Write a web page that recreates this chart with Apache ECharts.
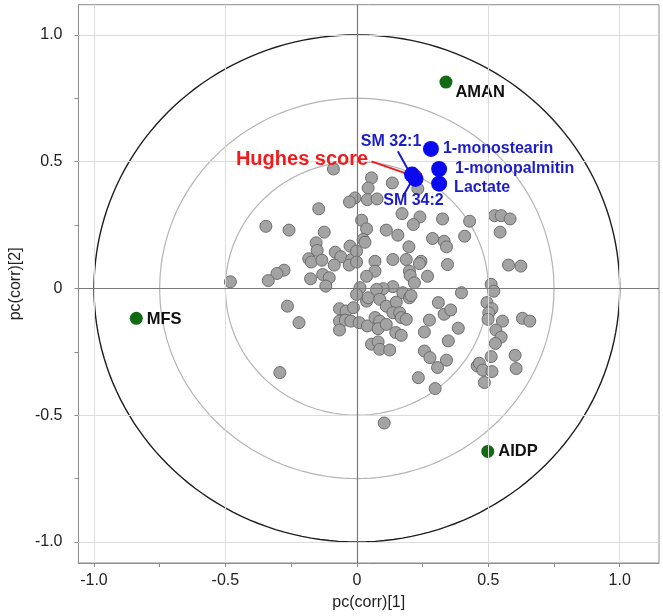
<!DOCTYPE html>
<html>
<head>
<meta charset="utf-8">
<script src="https://cdn.jsdelivr.net/npm/echarts@6/dist/echarts.min.js"></script>
<style>html,body{margin:0;padding:0;background:#fff}#c{width:663px;height:616px}</style>
</head>
<body>
<div id="c"></div>
<script>
// ---- data ----
const xLabelValues = [-1, -0.5, 0, 0.5, 1];
const yLabelValues = [-1, -0.5, 0, 0.5, 1];
const tickValues = [-1, -0.75, -0.5, -0.25, 0, 0.25, 0.5, 0.75, 1];
const gridValues = [-1, -0.5, 0.5, 1];
const circleRadii = [1, 0.75, 0.5];

const grayX = [-0.089,-0.007,-0.028,-0.145,-0.346,-0.258,-0.124,-0.155,-0.151,-0.026,-0.082,-0.061,-0.183,-0.173,-0.133,-0.020,-0.029,-0.086,-0.130,-0.105,-0.118,-0.176,-0.277,-0.304,-0.337,-0.481,-0.001,-0.001,
 0.056,0.043,0.135,0.232,0.040,0.077,0.172,0.240,0.215,0.326,0.018,0.037,0.112,0.156,0.024,0.031,0.288,0.332,0.341,0.198,0.429,0.410,0.524,0.549,0.583,0.545,0.188,0.137,0.069,0.069,0.037,0.244,0.238,0.269,0.345,0.200,0.203,0.219,0.577,0.624,0.012,0.137,0.511,0.100,0.075,
 -0.264,-0.220,-0.293,-0.066,-0.041,-0.013,-0.066,-0.044,-0.023,-0.066,
 -0.001,0.009,0.037,0.043,0.087,0.112,0.150,0.137,0.163,0.175,0.200,0.206,0.169,0.188,0.040,0.069,0.087,0.081,0.112,0.148,0.169,0.056,0.081,0.087,0.125,0.104,0.310,0.398,0.332,0.357,0.276,0.257,0.386,0.348,0.257,0.278,0.341,0.307,0.234,0.298,0.521,0.495,0.514,0.502,0.499,0.554,0.529,0.549,0.527,0.630,0.658,0.511,0.602,0.606,0.458,0.466,0.479,0.514,0.485];
const grayY = [0.471,0.357,0.341,0.314,0.245,0.230,0.222,0.180,0.150,0.167,0.143,0.125,0.117,0.104,0.111,0.114,0.092,0.092,0.055,0.042,0.009,0.038,0.072,0.059,0.031,0.026,0.147,0.104,
 0.436,0.396,0.416,0.393,0.350,0.353,0.295,0.282,0.252,0.274,0.269,0.235,0.230,0.210,0.193,0.182,0.197,0.186,0.164,0.164,0.265,0.206,0.287,0.287,0.274,0.222,0.114,0.114,0.107,0.068,0.048,0.107,0.098,0.048,0.094,0.068,0.051,0.022,0.092,0.088,0.003,0.007,0.016,-0.001,-0.004,
 -0.070,-0.135,-0.332,-0.080,-0.089,-0.076,-0.129,-0.125,-0.129,-0.164,
 -0.024,-0.135,-0.050,-0.037,-0.043,-0.070,-0.054,-0.096,-0.096,-0.017,-0.037,-0.028,-0.115,-0.122,-0.148,-0.115,-0.129,-0.159,-0.142,-0.174,-0.185,-0.220,-0.211,-0.240,-0.243,-0.531,-0.056,-0.017,-0.102,-0.085,-0.125,-0.172,-0.157,-0.207,-0.247,-0.273,-0.283,-0.312,-0.352,-0.395,-0.011,-0.056,-0.080,-0.096,-0.122,-0.129,-0.164,-0.192,-0.217,-0.118,-0.129,-0.269,-0.264,-0.316,-0.306,-0.295,-0.322,-0.328,-0.371];

const groupNames = ['AMAN', 'MFS', 'AIDP'];
const groupX = [0.339, -0.839, 0.498];
const groupY = [0.814, -0.118, -0.643];

const metabNames = ['SM 32:1', 'SM 34:2', '1-monostearin', '1-monopalmitin', 'Lactate'];
const metabX = [0.210, 0.223, 0.282, 0.313, 0.313];
const metabY = [0.449, 0.432, 0.550, 0.471, 0.413];

const scoreName = ['Hughes score'];
const scoreX = [0.222];
const scoreY = [0.442];

// annotation lines (data units): [startX, startY, endX, endY]
const arrowLine = [0.056, 0.501, 0.243, 0.433];
const leaderSM321 = [0.156, 0.541, 0.198, 0.462];
const leaderSM342 = [0.175, 0.363, 0.206, 0.419];

// ---- chart ----
const FONT = 'Liberation Sans, Arial, sans-serif';
const chart = echarts.init(document.getElementById('c'), null, {renderer: 'canvas'});

const fmt = v => (v === 0 ? '0' : v.toFixed(1));

const grayData = grayX.map((x, i) => [x, grayY[i]]);

const groupLabelCfg = [
  {position: 'right', distance: 3, offset: [0, 10]},
  {position: 'right', distance: 4, offset: [0, 1]},
  {position: 'right', distance: 4, offset: [0, 0]}
];
const groupData = groupNames.map((n, i) => ({
  name: n, value: [groupX[i], groupY[i]],
  label: Object.assign({show: true, formatter: n}, groupLabelCfg[i])
}));

const metabLabelCfg = [
  {position: 'inside', offset: [-21, -33]},
  {position: 'inside', offset: [-2, 22]},
  {position: 'right', distance: 4, offset: [0, 0]},
  {position: 'right', distance: 8, offset: [0, 0]},
  {position: 'right', distance: 7, offset: [0, 4]}
];
const metabData = metabNames.map((n, i) => ({
  name: n, value: [metabX[i], metabY[i]],
  label: Object.assign({show: true, formatter: n}, metabLabelCfg[i])
}));

const scoreData = scoreName.map((n, i) => ({
  name: n, value: [scoreX[i], scoreY[i]],
  label: {show: true, formatter: n, position: 'left', distance: 40, offset: [0, -17]}
}));

const gridLines = [];
gridValues.forEach(v => { gridLines.push({xAxis: v}); gridLines.push({yAxis: v}); });

const seg = a => [{coord: [a[0], a[1]]}, {coord: [a[2], a[3]]}];

chart.setOption({
  animation: false,
  grid: {left: 72.5, right: 4, top: 4.7, bottom: 52, show: true, borderColor: '#8c8c8c', borderWidth: 1, containLabel: false},
  xAxis: {
    type: 'value', min: -1.059, max: 1.1495,
    name: 'pc(corr)[1]', nameLocation: 'middle', nameGap: 32,
    nameTextStyle: {fontFamily: FONT, fontSize: 16, color: '#222'},
    axisLine: {show: true, onZero: false, lineStyle: {color: '#8c8c8c'}},
    axisTick: {show: true, inside: false, length: 4, customValues: tickValues, lineStyle: {color: '#8c8c8c'}},
    axisLabel: {customValues: xLabelValues, formatter: fmt, fontFamily: FONT, fontSize: 16, color: '#222', margin: 10},
    splitLine: {show: false}
  },
  yAxis: {
    type: 'value', min: -1.083, max: 1.119,
    name: 'pc(corr)[2]', nameLocation: 'middle', nameGap: 54, nameRotate: 90,
    nameTextStyle: {fontFamily: FONT, fontSize: 16, color: '#222'},
    axisLine: {show: true, onZero: false, lineStyle: {color: '#8c8c8c'}},
    axisTick: {show: true, inside: false, length: 4, customValues: tickValues, lineStyle: {color: '#8c8c8c'}},
    axisLabel: {customValues: yLabelValues, formatter: fmt, fontFamily: FONT, fontSize: 16, color: '#222', margin: 16},
    splitLine: {show: false}
  },
  series: [
    {
      type: 'custom', z: 1, silent: true,
      data: circleRadii.map(r => [r]),
      renderItem: function (params, api) {
        const r = api.value(0);
        const pts = [];
        for (let k = 0; k <= 360; k += 2) {
          const t = k * Math.PI / 180;
          pts.push(api.coord([r * Math.cos(t), r * Math.sin(t)]));
        }
        const outer = r === 1;
        return {
          type: 'polyline', shape: {points: pts},
          style: {fill: null, stroke: outer ? '#1e1e1e' : '#b4b4b4', lineWidth: outer ? 1.4 : 1.2}
        };
      },
      markLine: {
        silent: true, symbol: 'none', label: {show: false},
        lineStyle: {color: '#dcdcdc', width: 1, type: 'solid'},
        data: gridLines.concat([
          {xAxis: 0, lineStyle: {color: '#7a7a7a', width: 1.2}},
          {yAxis: 0, lineStyle: {color: '#7a7a7a', width: 1.2}}
        ])
      }
    },
    {
      type: 'scatter', z: 3, symbolSize: 12, data: grayData,
      itemStyle: {color: '#a3a3a3', borderColor: '#6c6c6c', borderWidth: 1, opacity: 1}
    },
    {
      type: 'scatter', z: 4, symbolSize: 13, data: groupData,
      itemStyle: {color: '#126a12', opacity: 1},
      label: {fontFamily: FONT, fontSize: 16.5, fontWeight: 'bold', color: '#111'}
    },
    {
      type: 'scatter', z: 5, symbolSize: 14, data: scoreData,
      itemStyle: {color: '#ee1c1c', opacity: 1},
      label: {fontFamily: FONT, fontSize: 20, fontWeight: 'bold', color: '#ee1c1c'},
      markLine: {
        silent: true, symbol: ['none', 'arrow'], symbolSize: [0, 9], label: {show: false},
        lineStyle: {color: '#ee1c1c', width: 2, type: 'solid'},
        data: [seg(arrowLine)]
      }
    },
    {
      type: 'scatter', z: 6, symbolSize: 16, data: metabData,
      itemStyle: {color: '#0a0aee', opacity: 1},
      label: {fontFamily: FONT, fontSize: 16, fontWeight: 'bold', color: '#1c1cc8'},
      markLine: {
        silent: true, symbol: 'none', label: {show: false},
        lineStyle: {color: '#1c1cc8', width: 2, type: 'solid'},
        data: [seg(leaderSM321), seg(leaderSM342)]
      }
    }
  ]
});
</script>
</body>
</html>
